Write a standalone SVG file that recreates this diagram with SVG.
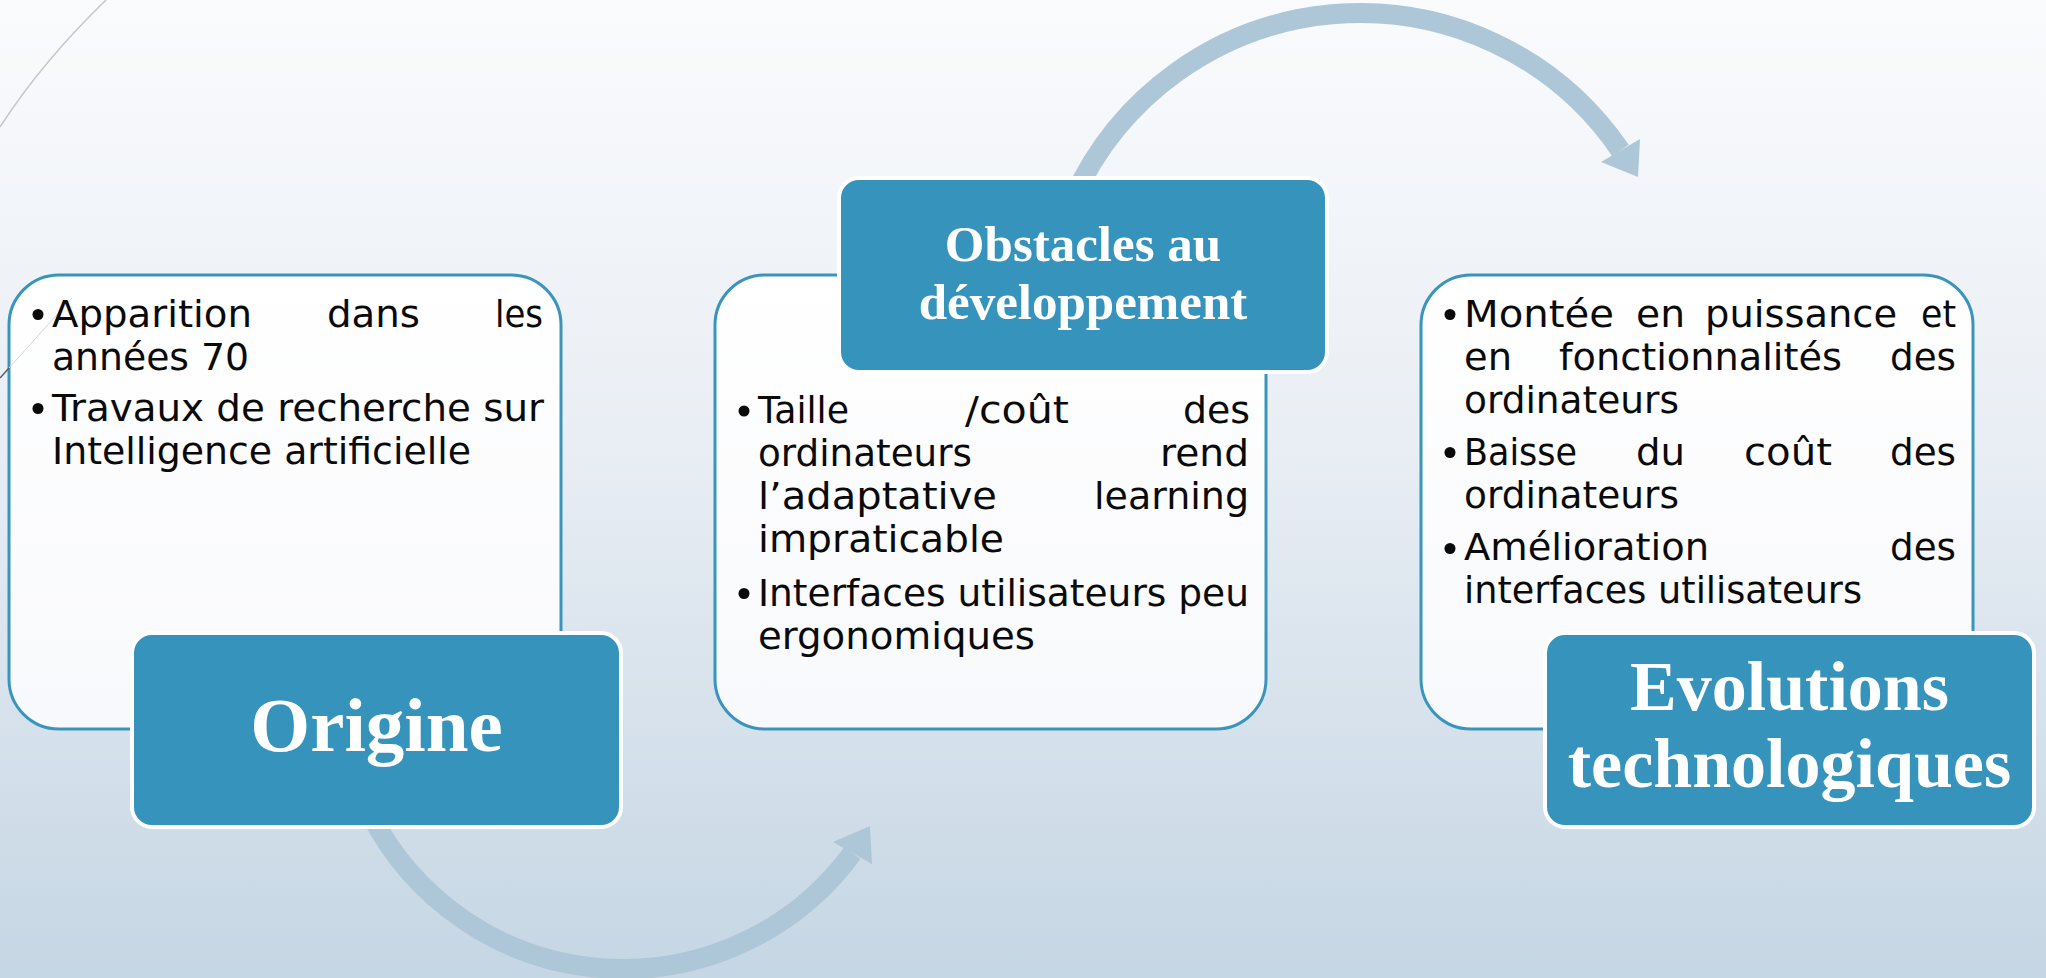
<svg xmlns="http://www.w3.org/2000/svg" width="2046" height="978" viewBox="0 0 2046 978">
<defs>
<linearGradient id="bg" x1="0" y1="0" x2="0" y2="1">
<stop offset="0" stop-color="#fafbfd"/>
<stop offset="0.45" stop-color="#e9eef4"/>
<stop offset="1" stop-color="#c5d6e4"/>
</linearGradient>
<linearGradient id="wf" x1="0" y1="0" x2="0" y2="1">
<stop offset="0" stop-color="#ffffff"/>
<stop offset="1" stop-color="#f8f9fc"/>
</linearGradient>
<style>
.wbox{fill:url(#wf);stroke:#3a95bd;stroke-width:3}
.bbox{fill:#3694bc;stroke:#ffffff;stroke-width:4}
.t{font-family:"DejaVu Sans","Liberation Sans",sans-serif;font-size:38px;fill:#0a0a0a}
.h{font-family:"Liberation Serif","DejaVu Serif",serif;font-weight:bold;fill:#ffffff;text-anchor:middle}
.arc{fill:none;stroke:#aec7d8;stroke-width:20}
.head{fill:#aec7d8}
.bul{fill:#0a0a0a}
</style>
</defs>
<rect x="0" y="0" width="2046" height="978" fill="url(#bg)"/>
<g id="decor">
<path d="M 106 0 Q 42 62 0 127" fill="none" stroke="#c4c6ca" stroke-width="1.5"/>
</g>
<g id="connectors">
<path class="arc" d="M 363.8 800 A 284 284 0 0 0 852.5 853"/>
<polygon class="head" points="870,826 872,864 833,842"/>
<path class="arc" d="M 1072.5 200 A 315 315 0 0 1 1620.5 150.5"/>
<polygon class="head" points="1638,177 1640,139 1601,162"/>
</g>
<g id="node-origine-details">
<rect class="wbox" x="9" y="275" width="552" height="454" rx="50"/>
<path d="M 72 298 L 9 368" stroke="#d4d6da" stroke-width="1"/>
<path d="M 9 368 L 0 378" stroke="#555a60" stroke-width="1.5"/>
<circle class="bul" cx="38" cy="314.5" r="5.5"/>
<text class="t" x="52" y="327" textLength="200" lengthAdjust="spacingAndGlyphs">Apparition</text>
<text class="t" x="327" y="327" textLength="93" lengthAdjust="spacingAndGlyphs">dans</text>
<text class="t" x="495" y="327" textLength="48" lengthAdjust="spacingAndGlyphs">les</text>
<text class="t" x="52" y="370" textLength="197" lengthAdjust="spacingAndGlyphs">années 70</text>
<circle class="bul" cx="38" cy="408.5" r="5.5"/>
<text class="t" x="52" y="421" textLength="492" lengthAdjust="spacingAndGlyphs">Travaux de recherche sur</text>
<text class="t" x="52" y="464" textLength="419" lengthAdjust="spacingAndGlyphs">Intelligence artificielle</text>
</g>
<g id="node-origine">
<rect class="bbox" x="132" y="633" width="489" height="194" rx="20"/>
<text class="h" x="376.5" y="751" font-size="77">Origine</text>
</g>
<g id="node-obstacles-details">
<rect class="wbox" x="715" y="275" width="551" height="454" rx="50"/>
<circle class="bul" cx="744" cy="411" r="5.5"/>
<text class="t" x="758" y="423" textLength="91" lengthAdjust="spacingAndGlyphs">Taille</text>
<text class="t" x="965" y="423" textLength="104" lengthAdjust="spacingAndGlyphs">/coût</text>
<text class="t" x="1183" y="423" textLength="67" lengthAdjust="spacingAndGlyphs">des</text>
<text class="t" x="758" y="466" textLength="214" lengthAdjust="spacingAndGlyphs">ordinateurs</text>
<text class="t" x="1160" y="466" textLength="89" lengthAdjust="spacingAndGlyphs">rend</text>
<text class="t" x="758" y="509" textLength="239" lengthAdjust="spacingAndGlyphs">l’adaptative</text>
<text class="t" x="1094" y="509" textLength="155" lengthAdjust="spacingAndGlyphs">learning</text>
<text class="t" x="758" y="552" textLength="246" lengthAdjust="spacingAndGlyphs">impraticable</text>
<circle class="bul" cx="744" cy="593.5" r="5.5"/>
<text class="t" x="758" y="606" textLength="491" lengthAdjust="spacingAndGlyphs">Interfaces utilisateurs peu</text>
<text class="t" x="758" y="649" textLength="277" lengthAdjust="spacingAndGlyphs">ergonomiques</text>
</g>
<g id="node-obstacles">
<rect class="bbox" x="839" y="178" width="488" height="194" rx="20"/>
<text class="h" x="1083" y="261" font-size="51">Obstacles au</text>
<text class="h" x="1083" y="319" font-size="51">développement</text>
</g>
<g id="node-evolutions-details">
<rect class="wbox" x="1421" y="275" width="552" height="454" rx="50"/>
<circle class="bul" cx="1450" cy="314.5" r="5.5"/>
<text class="t" x="1464" y="327" textLength="150" lengthAdjust="spacingAndGlyphs">Montée</text>
<text class="t" x="1636" y="327" textLength="49" lengthAdjust="spacingAndGlyphs">en</text>
<text class="t" x="1705" y="327" textLength="192" lengthAdjust="spacingAndGlyphs">puissance</text>
<text class="t" x="1921" y="327" textLength="35" lengthAdjust="spacingAndGlyphs">et</text>
<text class="t" x="1464" y="370" textLength="48" lengthAdjust="spacingAndGlyphs">en</text>
<text class="t" x="1559" y="370" textLength="283" lengthAdjust="spacingAndGlyphs">fonctionnalités</text>
<text class="t" x="1890" y="370" textLength="66" lengthAdjust="spacingAndGlyphs">des</text>
<text class="t" x="1464" y="413" textLength="215" lengthAdjust="spacingAndGlyphs">ordinateurs</text>
<circle class="bul" cx="1450" cy="452.5" r="5.5"/>
<text class="t" x="1464" y="465" textLength="113" lengthAdjust="spacingAndGlyphs">Baisse</text>
<text class="t" x="1636" y="465" textLength="49" lengthAdjust="spacingAndGlyphs">du</text>
<text class="t" x="1744" y="465" textLength="88" lengthAdjust="spacingAndGlyphs">coût</text>
<text class="t" x="1890" y="465" textLength="66" lengthAdjust="spacingAndGlyphs">des</text>
<text class="t" x="1464" y="508" textLength="215" lengthAdjust="spacingAndGlyphs">ordinateurs</text>
<circle class="bul" cx="1450" cy="548.5" r="5.5"/>
<text class="t" x="1464" y="560" textLength="245" lengthAdjust="spacingAndGlyphs">Amélioration</text>
<text class="t" x="1890" y="560" textLength="66" lengthAdjust="spacingAndGlyphs">des</text>
<text class="t" x="1464" y="603" textLength="398" lengthAdjust="spacingAndGlyphs">interfaces utilisateurs</text>
</g>
<g id="node-evolutions">
<rect class="bbox" x="1545" y="633" width="489" height="194" rx="20"/>
<text class="h" x="1789.5" y="710" font-size="70">Evolutions</text>
<text class="h" x="1789.5" y="787" font-size="70">technologiques</text>
</g>
</svg>
